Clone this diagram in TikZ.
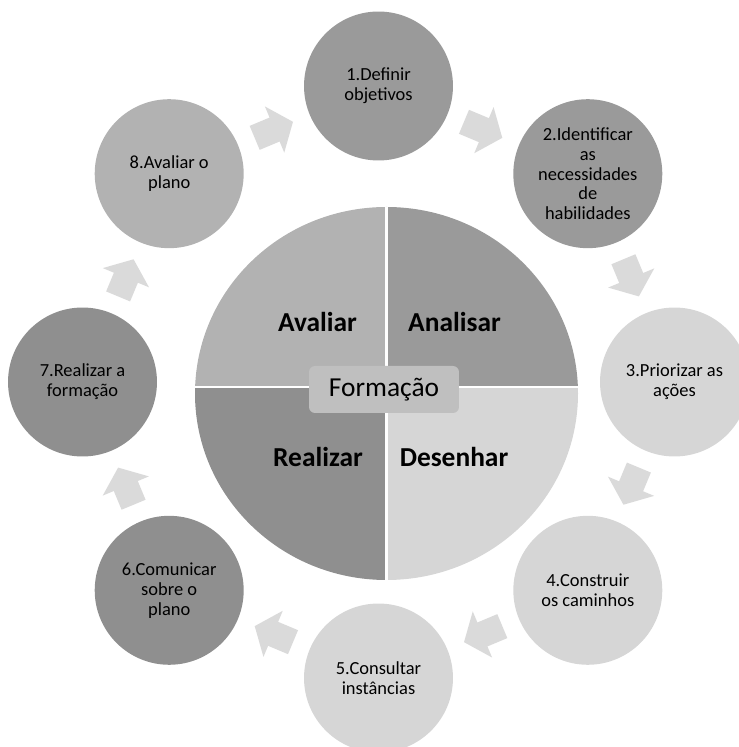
\documentclass[tikz,border=0pt]{standalone}
\usepackage{fontspec}
\setmainfont{Carlito}
\usetikzlibrary{arrows.meta}
\definecolor{greyA}{HTML}{9A9A9A}
\definecolor{greyB}{HTML}{D6D6D6}
\definecolor{greyC}{HTML}{8F8F8F}
\definecolor{greyD}{HTML}{B2B2B2}
\definecolor{boxgrey}{HTML}{BFBFBF}
\definecolor{arrowgrey}{HTML}{DADADA}
\tikzset{
  stage/.style={circle, minimum size=2.98cm, inner sep=0pt, align=center,
    font=\fontsize{10.5}{11.3}\selectfont},
  quarter/.style={font=\bfseries\fontsize{15.6}{18}\selectfont},
  flow/.style={draw=arrowgrey, line width=0.52cm, shorten <=1.854cm, shorten >=1.854cm,
    -{Triangle[width=0.98cm,length=0.4cm]}}
}
\begin{document}
\begin{tikzpicture}[x=0.02cm,y=0.02cm]
  \useasboundingbox (0,0) rectangle (739,747);
  % big circle
  \begin{scope}
    \clip (386.5,353.5) ellipse [x radius=191.5, y radius=186.5];
    \fill[greyD] (190,360) rectangle (386.5,545);
    \fill[greyA] (386.5,360) rectangle (583,545);
    \fill[greyC] (190,160) rectangle (386.5,360);
    \fill[greyB] (386.5,160) rectangle (583,360);
    \draw[white, line width=1.2pt] (386.5,160) -- (386.5,545);
    \draw[white, line width=1.2pt] (190,360) -- (583,360);
  \end{scope}
  \node[quarter] (avaliar) at (317.5,425) {Avaliar};
  \node[quarter] (analisar) at (454.5,425) {Analisar};
  \node[quarter] (realizar) at (318,290) {Realizar};
  \node[quarter] (desenhar) at (454,290) {Desenhar};
  \node[fill=boxgrey, rounded corners=0.12cm, minimum width=3cm, minimum height=0.94cm,
    font=\fontsize{15.6}{18}\selectfont] (formacao) at (384,357.5) {Formação};

  % outer ring
  \node[stage, fill=greyA] (c1) at (378.5,661) {1.Definir\\objetivos};
  \node[stage, fill=greyA] (c2) at (587.8,573.3) {2.Identificar\\as\\necessidades\\de\\habilidades};
  \node[stage, fill=greyB] (c3) at (674.5,365) {3.Priorizar as\\ações};
  \node[stage, fill=greyB] (c4) at (587.8,156.7) {4.Construir\\os caminhos};
  \node[stage, fill=greyB] (c5) at (378.5,69) {5.Consultar\\instâncias};
  \node[stage, fill=greyC] (c6) at (169.2,156.7) {6.Comunicar\\sobre o\\plano};
  \node[stage, fill=greyC] (c7) at (82.5,365) {7.Realizar a\\formação};
  \node[stage, fill=greyD] (c8) at (169.2,573.3) {8.Avaliar o\\plano};

  \draw[flow] (c1.center) -- (c2.center);
  \draw[flow] (c2.center) -- (c3.center);
  \draw[flow] (c3.center) -- (c4.center);
  \draw[flow] (c4.center) -- (c5.center);
  \draw[flow] (c5.center) -- (c6.center);
  \draw[flow] (c6.center) -- (c7.center);
  \draw[flow] (c7.center) -- (c8.center);
  \draw[flow] (c8.center) -- (c1.center);
\end{tikzpicture}
\end{document}
